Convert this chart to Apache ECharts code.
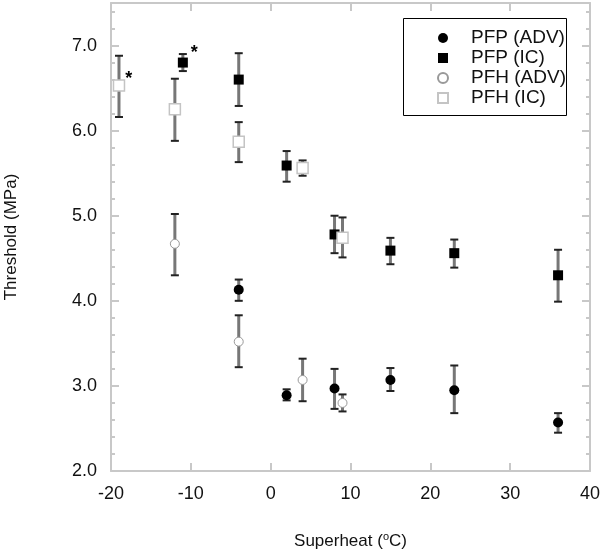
<!DOCTYPE html>
<html>
<head>
<meta charset="utf-8">
<script src="https://cdn.jsdelivr.net/npm/echarts@6/dist/echarts.min.js"></script>
<style>
  html, body { margin: 0; padding: 0; background: #ffffff; }
  #chart { width: 601px; height: 552px; }
</style>
</head>
<body>
<div id="chart"></div>
<script>
// PFP (ADV) - filled circles
var pfpAdvX = [-4, 2, 8, 15, 23, 36];
var pfpAdvY = [4.13, 2.89, 2.97, 3.07, 2.95, 2.57];
var pfpAdvLo = [4.00, 2.83, 2.73, 2.94, 2.68, 2.45];
var pfpAdvHi = [4.25, 2.96, 3.20, 3.21, 3.24, 2.68];

// PFP (IC) - filled squares
var pfpIcX = [-11, -4, 2, 8, 15, 23, 36];
var pfpIcY = [6.80, 6.60, 5.59, 4.78, 4.59, 4.56, 4.30];
var pfpIcLo = [6.70, 6.29, 5.40, 4.56, 4.43, 4.39, 3.99];
var pfpIcHi = [6.90, 6.91, 5.76, 5.00, 4.74, 4.72, 4.60];

// PFH (ADV) - open circles
var pfhAdvX = [-12, -4, 4, 9];
var pfhAdvY = [4.67, 3.52, 3.07, 2.80];
var pfhAdvLo = [4.30, 3.22, 2.82, 2.70];
var pfhAdvHi = [5.02, 3.83, 3.32, 2.90];

// PFH (IC) - open squares
var pfhIcX = [-19, -12, -4, 4, 9];
var pfhIcY = [6.53, 6.25, 5.87, 5.56, 4.74];
var pfhIcLo = [6.16, 5.88, 5.63, 5.47, 4.51];
var pfhIcHi = [6.88, 6.61, 6.10, 5.65, 4.98];

// points marked with an asterisk
var starPfhIc = [-19];
var starPfpIc = [-11];

var FONT = 'Liberation Sans, Arial, sans-serif';

function points(xs, ys, stars, offset) {
    return xs.map(function (x, i) {
        var item = { value: [x, ys[i]] };
        if (stars && stars.indexOf(x) >= 0) {
            item.label = {
                show: true, formatter: '*', position: 'right',
                offset: offset, fontSize: 18, fontWeight: 'bold',
                color: '#000', fontFamily: FONT
            };
        }
        return item;
    });
}

function bars(xs, lo, hi) {
    return xs.map(function (x, i) { return [x, lo[i], hi[i]]; });
}

function errorSeries(data) {
    return {
        type: 'custom',
        z: 1,
        silent: true,
        data: data,
        renderItem: function (params, api) {
            var top = api.coord([api.value(0), api.value(2)]);
            var bot = api.coord([api.value(0), api.value(1)]);
            var w = 4;
            return {
                type: 'group',
                children: [
                    { type: 'line', shape: { x1: top[0], y1: top[1], x2: bot[0], y2: bot[1] },
                      style: { stroke: '#777777', lineWidth: 3 } },
                    { type: 'line', shape: { x1: top[0] - w, y1: top[1], x2: top[0] + w, y2: top[1] },
                      style: { stroke: '#222222', lineWidth: 2 } },
                    { type: 'line', shape: { x1: bot[0] - w, y1: bot[1], x2: bot[0] + w, y2: bot[1] },
                      style: { stroke: '#222222', lineWidth: 2 } }
                ]
            };
        }
    };
}

var myChart = echarts.init(document.getElementById('chart'));

var axisLineStyle = { color: '#c8c8c8', width: 2 };

function plainAxis(extra) {
    var ax = {
        type: 'value',
        axisLine: { onZero: false, lineStyle: axisLineStyle },
        axisTick: { inside: true, length: 8, lineStyle: axisLineStyle },
        axisLabel: { show: false },
        splitLine: { show: false }
    };
    for (var k in extra) ax[k] = extra[k];
    return ax;
}

var option = {
    animation: false,
    backgroundColor: '#ffffff',
    grid: { left: 111, right: 11, top: 3, bottom: 81, containLabel: false, outerBoundsMode: 'none' },
    graphic: [{
        type: 'rect',
        shape: { x: 403.5, y: 18.5, width: 163, height: 97 },
        style: { fill: 'none', stroke: '#000', lineWidth: 1 },
        z: 5
    }],
    legend: {
        left: 432, top: 23,
        orient: 'vertical',
        itemWidth: 10, itemHeight: 10,
        itemGap: 0,
        textStyle: { fontSize: 19, fontFamily: FONT, color: '#111', lineHeight: 20,
                     padding: [0, 0, 0, 18] },
        data: ['PFP (ADV)', 'PFP (IC)', 'PFH (ADV)', 'PFH (IC)']
    },
    xAxis: [plainAxis({
        min: -20, max: 40, interval: 10,
        name: '{a|Superheat (}{s|o}{a|C)}',
        nameLocation: 'middle', nameGap: 60,
        nameTextStyle: {
            rich: {
                a: { fontSize: 17, fontFamily: FONT, color: '#111' },
                s: { fontSize: 11, fontFamily: FONT, color: '#111', padding: [0, 0, 9, 0] }
            }
        },
        axisLabel: { fontSize: 18, fontFamily: FONT, color: '#111', margin: 14 }
    }), plainAxis({
        min: -20, max: 40, interval: 10, position: 'top'
    })],
    yAxis: [plainAxis({
        min: 2, max: 7.5, interval: 1,
        name: 'Threshold (MPa)',
        nameLocation: 'middle', nameGap: 91, nameRotate: 90,
        nameTextStyle: { fontSize: 17, fontFamily: FONT, color: '#111' },
        axisLabel: { fontSize: 18, fontFamily: FONT, color: '#111', margin: 14, showMaxLabel: false,
            formatter: function (v) { return v.toFixed(1); } }
    }), plainAxis({
        min: 2, max: 7.5, interval: 0.2, position: 'left',
        axisLine: { show: false, onZero: false },
        axisTick: { inside: true, length: 4, lineStyle: axisLineStyle }
    }), plainAxis({
        min: 2, max: 7.5, interval: 1, position: 'right'
    }), plainAxis({
        min: 2, max: 7.5, interval: 0.2, position: 'right',
        axisLine: { show: false, onZero: false },
        axisTick: { inside: true, length: 4, lineStyle: axisLineStyle }
    })],
    series: [
        errorSeries(bars(pfpAdvX, pfpAdvLo, pfpAdvHi)),
        errorSeries(bars(pfpIcX, pfpIcLo, pfpIcHi)),
        errorSeries(bars(pfhAdvX, pfhAdvLo, pfhAdvHi)),
        errorSeries(bars(pfhIcX, pfhIcLo, pfhIcHi)),
        {
            name: 'PFP (ADV)', type: 'scatter', z: 3,
            symbol: 'circle', symbolSize: 10,
            itemStyle: { color: '#000', opacity: 1 },
            data: points(pfpAdvX, pfpAdvY)
        },
        {
            name: 'PFP (IC)', type: 'scatter', z: 3,
            symbol: 'rect', symbolSize: 10,
            itemStyle: { color: '#000', opacity: 1 },
            data: points(pfpIcX, pfpIcY, starPfpIc, [-2, -10])
        },
        {
            name: 'PFH (ADV)', type: 'scatter', z: 3,
            symbol: 'circle', symbolSize: 9,
            itemStyle: { color: '#ffffff', borderColor: '#999999', borderWidth: 1, opacity: 1 },
            data: points(pfhAdvX, pfhAdvY)
        },
        {
            name: 'PFH (IC)', type: 'scatter', z: 3,
            symbol: 'rect', symbolSize: 11,
            itemStyle: { color: '#ffffff', borderColor: '#c4c4c4', borderWidth: 1.5, opacity: 1 },
            data: points(pfhIcX, pfhIcY, starPfhIc, [-5, -7])
        }
    ]
};
myChart.setOption(option);
</script>
</body>
</html>
